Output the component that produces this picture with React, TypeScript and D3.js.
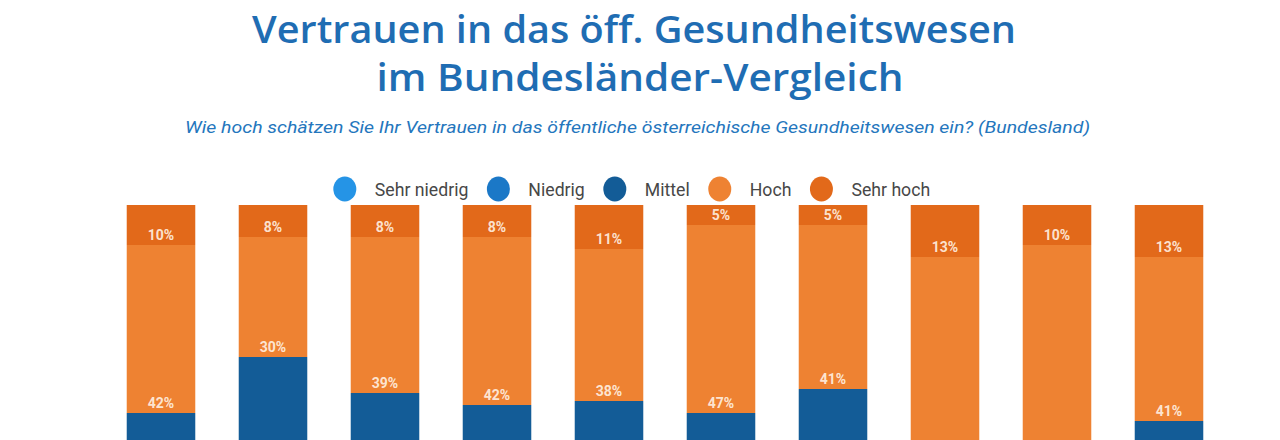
import React from "react";
import * as d3 from "d3";

const categories = ["Burgenland", "Kärnten", "Niederösterreich", "Oberösterreich", "Salzburg", "Steiermark", "Tirol", "Vorarlberg", "Wien", "Gesamt"];
const seriesKeys = ["Sehr niedrig", "Niedrig", "Mittel", "Hoch", "Sehr hoch"];
const seriesColors = ["#2594E6", "#1B78C7", "#135C97", "#EE8232", "#E2691A"];
const sehrNiedrig = [4, 6, 5, 4, 4, 4, 5, 3, 3, 4];
const niedrig = [8, 12, 10, 9, 10, 9, 10, 6, 6, 8];
const mittel = [36, 44, 38, 37, 37, 35, 39, 26, 26, 34];
const hoch = [42, 30, 39, 42, 38, 47, 41, 52, 55, 41];
const sehrHoch = [10, 8, 8, 8, 11, 5, 5, 13, 10, 13];

const title1 = "Vertrauen in das öff. Gesundheitswesen";
const title2 = "im Bundesländer-Vergleich";
const subtitle = "Wie hoch schätzen Sie Ihr Vertrauen in das öffentliche österreichische Gesundheitswesen ein? (Bundesland)";

const W = 1280;
const H = 440;

function measure(text: string, font: string) {
  const c = document.createElement("canvas").getContext("2d")!;
  c.font = font;
  return c.measureText(text).width;
}

export default function App() {
  const rows = categories.map((c, i) => ({
    cat: c,
    "Sehr niedrig": sehrNiedrig[i],
    Niedrig: niedrig[i],
    Mittel: mittel[i],
    Hoch: hoch[i],
    "Sehr hoch": sehrHoch[i],
  }));
  const stacked = d3.stack<any>().keys(seriesKeys)(rows);

  const x = d3.scaleBand<string>().domain(categories).range([105, 1225]).paddingInner(0.388).paddingOuter(0.194);
  const y = d3.scaleLinear().domain([0, 100]).range([605, 205]);
  const color = d3.scaleOrdinal<string, string>().domain(seriesKeys).range(seriesColors);

  // legend layout
  const legFont = "19px Roboto";
  const sq = 0.93;
  const r = 12;
  const gapCT = 30;
  const gapTC = 30;
  const widths = seriesKeys.map((k) => measure(k, legFont) * sq);
  let cur = 0;
  const legItems = seriesKeys.map((k, i) => {
    const cx = cur + r;
    const tx = cx + gapCT;
    cur = tx + widths[i] + gapTC - r;
    return { k, cx, tx, w: widths[i] };
  });
  const legTotal = legItems[legItems.length - 1].tx + legItems[legItems.length - 1].w;
  const legX0 = 631.5 - legTotal / 2;
  const legY = 189;

  return (
    <svg width={W} height={H} style={{ position: "absolute", left: 0, top: 0, background: "#fff" }}>
      <g fontFamily="'Open Sans', sans-serif" fontWeight={600} fill="#1F6DB3" textAnchor="middle">
        <text x={634} y={43} fontSize={38} textLength={764} lengthAdjust="spacingAndGlyphs">{title1}</text>
        <text x={640} y={91} fontSize={38} textLength={527} lengthAdjust="spacingAndGlyphs">{title2}</text>
      </g>
      <text x={637.5} y={133} fontFamily="Roboto, sans-serif" fontStyle="italic" fontSize={16} fill="#2476BD" textAnchor="middle" textLength={905} lengthAdjust="spacingAndGlyphs">
        {subtitle}
      </text>
      <g transform={`translate(${legX0},${legY})`}>
        {legItems.map((it, i) => (
          <g key={it.k}>
            <ellipse cx={it.cx} cy={0} rx={11.5} ry={12.5} fill={seriesColors[i]} />
            <text x={it.tx} y={0} dy="0.35em" fontFamily="Roboto, sans-serif" fontSize={19} fill="#474747" textLength={it.w} lengthAdjust="spacingAndGlyphs">
              {it.k}
            </text>
          </g>
        ))}
      </g>
      {stacked.map((s) => (
        <g key={s.key} fill={color(s.key)}>
          {s.map((d, j) => (
            <rect key={j} x={x(categories[j])} width={x.bandwidth()} y={y(d[1])} height={y(d[0]) - y(d[1])} />
          ))}
        </g>
      ))}
      {stacked.map((s) => (
        <g key={s.key + "-l"} fontFamily="Roboto, sans-serif" fontWeight={700} fontSize={14} fill="#FFF3E6" fillOpacity={0.9} textAnchor="middle">
          {s.map((d, j) => {
            const v = d[1] - d[0];
            const ly = y(d[0]) - 10;
            if (v < 3 || ly > H - 10) return null;
            return (
              <text key={j} x={(x(categories[j]) as number) + x.bandwidth() / 2} y={ly} dy="0.35em">
                {v}%
              </text>
            );
          })}
        </g>
      ))}
    </svg>
  );
}
